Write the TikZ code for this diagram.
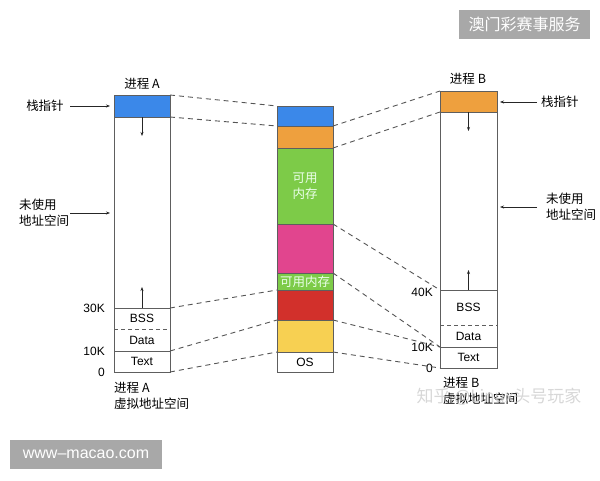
\documentclass[tikz,border=0pt]{standalone}
\usepackage{fontspec}
\setmainfont{Liberation Sans}
\newfontfamily\cjk{Noto Sans CJK SC}
\usetikzlibrary{arrows.meta}
\definecolor{cblue}{HTML}{3B88E9}
\definecolor{corange}{HTML}{EEA03E}
\definecolor{cgreen}{HTML}{7DCB48}
\definecolor{cpink}{HTML}{E1458E}
\definecolor{cred}{HTML}{D2302B}
\definecolor{cyellow}{HTML}{F7D052}
\definecolor{cline}{HTML}{5E5E5E}
\definecolor{cdash}{HTML}{555555}
\definecolor{wmbox}{HTML}{A8A8A8}
\tikzset{
  seg/.style={draw=cline, line width=1pt, minimum width=56, inner sep=0, outer sep=0},
  segn/.style={minimum width=56, inner sep=0, outer sep=0, font=\fontsize{12}{13}\selectfont},
  lbl/.style={inner sep=0, font=\cjk\fontsize{12.5}{16}\selectfont},
  num/.style={inner sep=0, font=\fontsize{12}{13}\selectfont},
  conn/.style={cdash, line width=0.9pt, dash pattern=on 5pt off 4pt},
  arr/.style={-{Stealth[length=4pt,width=3pt]}, line width=0.8pt, black!85},
  wm/.style={fill=wmbox, text=white, inner sep=0}
}
\begin{document}
\begin{tikzpicture}[x=1pt,y=-1pt]
\useasboundingbox (0,0) rectangle (600,480);
% ---------- Process A ----------
\node[seg, minimum height=277] (A) at (142,233.5) {};
\node[seg, fill=cblue, minimum height=22] (As) at (142,106) {};
\node[segn, minimum height=21] (Abss) at (142,318.5) {BSS};
\node[segn, minimum height=22] (Adata) at (142,340) {Data};
\node[segn, minimum height=21] (Atext) at (142,361.5) {Text};
\draw[cline, line width=1pt] (Abss.north west) -- (Abss.north east);
\draw[cline, line width=0.9pt, dash pattern=on 4pt off 3pt] (Abss.south west) -- (Abss.south east);
\draw[cline, line width=1pt] (Atext.north west) -- (Atext.north east);
\coordinate (Adn) at (142,136);
\coordinate (Aup) at (142,287);
\draw[arr] (As.south) -- (Adn);
\draw[arr] (Abss.north) -- (Aup);
\node[lbl] (Atitle) at (142,84) {进程 A};
\node[lbl, anchor=north west, align=left] (Abot) at (114,382) {进程 A\\虚拟地址空间};
\node[num, anchor=east] (A30) at (105,308) {30K};
\node[num, anchor=east] (A10) at (105,351) {10K};
\node[num, anchor=east] (A0) at (105,372) {0};
\node[lbl] (Asp) at (45,106) {栈指针};
\coordinate (Aspa) at (70,106);
\coordinate (Aspb) at (110,106);
\draw[arr] (Aspa) -- (Aspb);
\node[lbl, anchor=west, align=left] (Aun) at (19,213) {未使用\\地址空间};
\coordinate (Auna) at (70,213);
\coordinate (Aunb) at (110,213);
\draw[arr] (Auna) -- (Aunb);
% ---------- Physical memory ----------
\node[seg, fill=cblue, minimum height=20] (Mblue) at (305,116) {};
\node[seg, fill=corange, minimum height=22] (Morange) at (305,137) {};
\node[seg, fill=cgreen, minimum height=76, text=green!8, align=center, font=\cjk\fontsize{12.5}{16}\selectfont] (Mgreen) at (305,186) {可用\\内存};
\node[seg, fill=cpink, minimum height=49] (Mpink) at (305,248.5) {};
\node[seg, fill=cgreen, minimum height=17, text=green!8, font=\cjk\fontsize{12.5}{14}\selectfont] (Mfree) at (305,281.5) {可用内存};
\node[seg, fill=cred, minimum height=30] (Mred) at (305,305) {};
\node[seg, fill=cyellow, minimum height=32] (Myel) at (305,336) {};
\node[seg, fill=white, minimum height=20, font=\fontsize{12}{13}\selectfont] (Mos) at (305,362) {OS};
% ---------- Process B ----------
\node[seg, minimum width=57, minimum height=277] (B) at (468.5,229.5) {};
\node[seg, minimum width=57, fill=corange, minimum height=21] (Bs) at (468.5,101.5) {};
\node[segn, minimum width=57, minimum height=35] (Bbss) at (468.5,307.5) {BSS};
\node[segn, minimum width=57, minimum height=22] (Bdata) at (468.5,336) {Data};
\node[segn, minimum width=57, minimum height=21] (Btext) at (468.5,357.5) {Text};
\draw[cline, line width=1pt] (Bbss.north west) -- (Bbss.north east);
\draw[cline, line width=0.9pt, dash pattern=on 4pt off 3pt] (Bbss.south west) -- (Bbss.south east);
\draw[cline, line width=1pt] (Btext.north west) -- (Btext.north east);
\coordinate (Bdn) at (468.5,131);
\coordinate (Bup) at (468.5,270);
\draw[arr] (Bs.south) -- (Bdn);
\draw[arr] (Bbss.north) -- (Bup);
\node[lbl] (Btitle) at (468,79) {进程 B};
\node[lbl, anchor=north west, align=left] (Bbot) at (443,377) {进程 B\\虚拟地址空间};
\node[num, anchor=east] (B40) at (433,292) {40K};
\node[num, anchor=east] (B10) at (433,347) {10K};
\node[num, anchor=east] (B0) at (433,368) {0};
\node[lbl, anchor=west] (Bsp) at (541,102) {栈指针};
\coordinate (Bspa) at (537,102);
\coordinate (Bspb) at (500,102);
\draw[arr] (Bspa) -- (Bspb);
\node[lbl, anchor=west, align=left] (Bun) at (546,207) {未使用\\地址空间};
\coordinate (Buna) at (537,207);
\coordinate (Bunb) at (500,207);
\draw[arr] (Buna) -- (Bunb);
% ---------- Connectors ----------
\draw[conn] (As.north east) -- (Mblue.north west);
\draw[conn] (As.south east) -- (Mblue.south west);
\draw[conn] (Abss.north east) -- (Mred.north west);
\draw[conn] (Atext.north east) -- (Myel.north west);
\draw[conn] (Atext.south east) -- (Mos.north west);
\draw[conn] (Mblue.south east) -- (Bs.north west);
\draw[conn] (Morange.south east) -- (Bs.south west);
\draw[conn] (Mpink.north east) -- (Bbss.north west);
\draw[conn] (Mpink.south east) -- (Btext.north west);
\draw[conn] (Myel.north east) -- (Btext.north west);
\draw[conn] (Mos.north east) -- (Btext.south west);
% ---------- Watermarks ----------
\node[text=gray!45, opacity=0.7, inner sep=0, font=\cjk\fontsize{17}{20}\selectfont] (wz) at (499,397) {知乎 @Linux头号玩家};
\node[wm, minimum width=131, minimum height=29, font=\cjk\fontsize{16}{18}\selectfont] (wm1) at (524.5,24.5) {澳门彩赛事服务};
\node[wm, minimum width=152, minimum height=29, font=\fontsize{16}{18}\selectfont] (wm2) at (86,454.5) {www–macao.com};
\end{tikzpicture}
\end{document}
